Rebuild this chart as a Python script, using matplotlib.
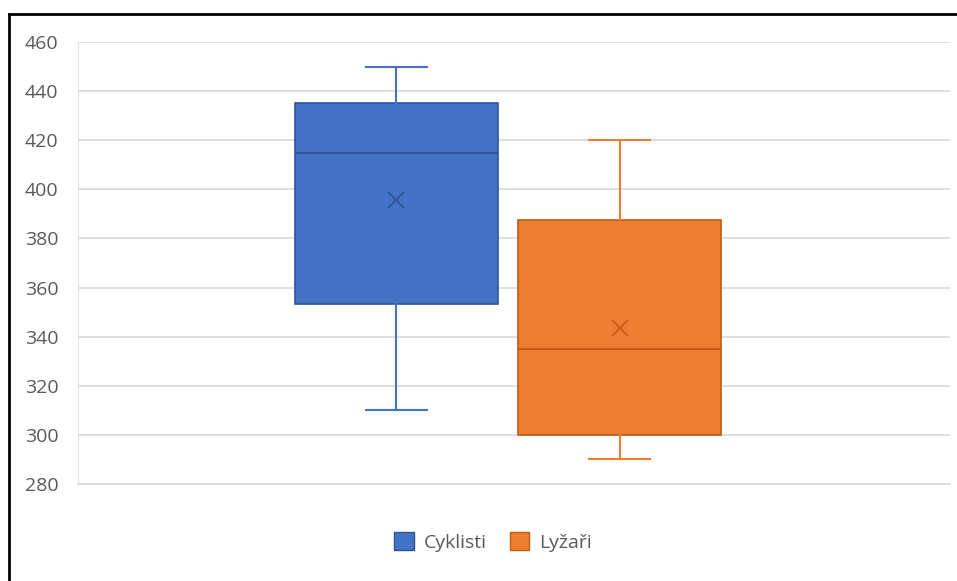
import matplotlib.pyplot as plt
from matplotlib.patches import Patch
from matplotlib.lines import Line2D

plt.rcParams['font.family'] = ['Open Sans', 'DejaVu Sans']

# box-and-whisker summary
series = ["Cyklisti", "Lyžaři"]
whisker_low = [310, 290]
q1 = [353.5, 300]
median = [415, 335]
q3 = [435, 387.5]
whisker_high = [450, 420]
mean = [395.5, 343.5]

colors = ["#4472C4", "#ED7D31"]
dark = ["#2F5597", "#C55A11"]
positions = [0.365, 0.621]

fig = plt.figure(figsize=(9.57, 5.81), dpi=100)
ax = fig.add_axes([78 / 957, 1 - 484 / 581, (950 - 78) / 957, (484 - 42) / 581])

for i, name in enumerate(series):
    stats = [{
        "whislo": whisker_low[i], "q1": q1[i], "med": median[i],
        "q3": q3[i], "whishi": whisker_high[i], "mean": mean[i], "label": name,
    }]
    ax.bxp(stats, positions=[positions[i]], widths=0.233, patch_artist=True,
           showmeans=True, showfliers=False, manage_ticks=False,
           boxprops=dict(facecolor=colors[i], edgecolor=dark[i], linewidth=1.2),
           medianprops=dict(color=dark[i], linewidth=1.5),
           whiskerprops=dict(color=colors[i], linewidth=1.5),
           capprops=dict(color=colors[i], linewidth=1.5),
           capwidths=0.07,
           meanprops=dict(marker="x", markeredgecolor=dark[i], markersize=11,
                          markeredgewidth=1.3),
           zorder=3)

ax.set_xlim(0, 1)
ax.set_ylim(280, 460)
ax.set_yticks(range(280, 461, 20))
ax.set_xticks([])
ax.tick_params(axis="y", length=0, labelsize=14, labelcolor="#595959", pad=14)
ax.grid(axis="y", color="#D9D9D9", linewidth=1.2, zorder=0)
for side in ["top", "right"]:
    ax.spines[side].set_visible(False)
ax.spines["left"].set_color("#E3E3E3")
ax.spines["bottom"].set_color("#D9D9D9")
ax.spines["bottom"].set_linewidth(1.2)

handles = [Patch(facecolor=c, edgecolor=d, label=s) for s, c, d in zip(series, colors, dark)]
fig.legend(handles=handles, loc="center", bbox_to_anchor=(493 / 957, 1 - 542 / 581),
           ncol=2, frameon=False, fontsize=14, labelcolor="#595959",
           handlelength=1.0, handleheight=1.0, handletextpad=0.5, columnspacing=1.2)

# screenshot frame on top and left
fig.add_artist(Line2D([9 / 957, 1], [1 - 14 / 581, 1 - 14 / 581], color="black", linewidth=2))
fig.add_artist(Line2D([9 / 957, 9 / 957], [0, 1 - 14 / 581], color="black", linewidth=2))

fig.savefig("out.png", dpi=100)
